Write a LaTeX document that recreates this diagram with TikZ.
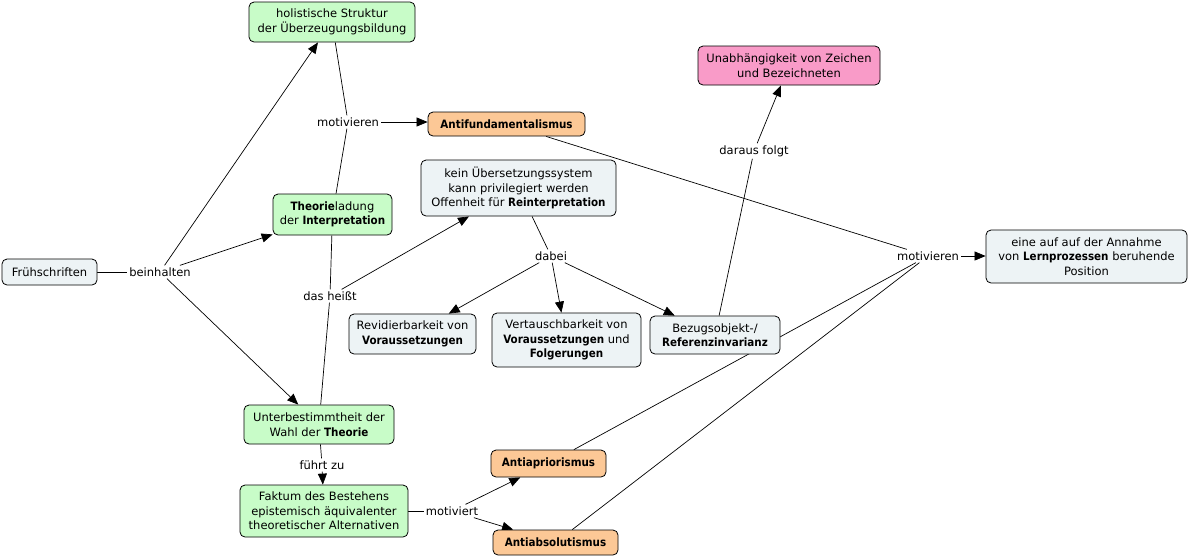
\documentclass[tikz,border=0pt]{standalone}
\usepackage{fontspec}
\setmainfont{DejaVu Sans}[BoldFont={DejaVu Sans Condensed Bold}]
\usetikzlibrary{arrows.meta,backgrounds}
\definecolor{cgreen}{RGB}{200,252,200}
\definecolor{cgray}{RGB}{237,243,245}
\definecolor{corange}{RGB}{252,200,150}
\definecolor{cpink}{RGB}{249,155,200}
\begin{document}
\begin{tikzpicture}[x=1pt,y=-1pt,
  font=\fontsize{11.5}{14.5}\selectfont,
  box/.style={draw=black, rounded corners=5pt, line width=0.8pt, align=center, inner sep=2pt},
  gbox/.style={box, fill=cgreen},
  wbox/.style={box, fill=cgray},
  obox/.style={box, fill=corange},
  pbox/.style={box, fill=cpink},
  lbl/.style={inner sep=2pt},
  conn/.style={draw=black, line width=0.7pt},
  arr/.style={conn, -{Triangle[length=11pt,width=9pt]}}]
\useasboundingbox (0,0) rectangle (1190,558);
% concept nodes
\node[wbox, minimum width=95pt, minimum height=26pt] (fru) at (49.5,272) {Frühschriften};
\node[gbox, minimum width=166pt, minimum height=40pt] (hol) at (332,22) {holistische Struktur\\der Überzeugungsbildung};
\node[obox, minimum width=157pt, minimum height=24pt] (afu) at (506.5,124) {\textbf{Antifundamentalismus}};
\node[gbox, minimum width=119pt, minimum height=41pt] (the) at (332.5,214.5) {\textbf{Theorie}ladung\\der \textbf{Interpretation}};
\node[wbox, minimum width=195pt, minimum height=56pt] (kei) at (518.5,188) {kein Übersetzungssystem\\kann privilegiert werden\\Offenheit für \textbf{Reinterpretation}};
\node[pbox, minimum width=182pt, minimum height=39pt] (una) at (789,65.5) {Unabhängigkeit von Zeichen\\und Bezeichneten};
\node[wbox, minimum width=201pt, minimum height=53pt] (ein) at (1086.5,256.5) {eine auf auf der Annahme\\von \textbf{Lernprozessen} beruhende\\Position};
\node[wbox, minimum width=127pt, minimum height=40pt] (rev) at (412.5,334) {Revidierbarkeit von\\\textbf{Voraussetzungen}};
\node[wbox, minimum width=149pt, minimum height=54pt] (ver) at (566.5,340) {Vertauschbarkeit von\\\textbf{Voraussetzungen} und\\\textbf{Folgerungen}};
\node[wbox, minimum width=130pt, minimum height=38pt] (bez) at (715,335) {Bezugsobjekt-/\\\textbf{Referenzinvarianz}};
\node[gbox, minimum width=150pt, minimum height=39pt] (unt) at (319,424.5) {Unterbestimmtheit der\\Wahl der \textbf{Theorie}};
\node[obox, minimum width=115pt, minimum height=27pt] (apr) at (548.5,463.5) {\textbf{Antiapriorismus}};
\node[gbox, minimum width=168pt, minimum height=52pt] (fak) at (324,511) {Faktum des Bestehens\\epistemisch äquivalenter\\theoretischer Alternativen};
\node[obox, minimum width=125pt, minimum height=25pt] (abs) at (555.5,542.5) {\textbf{Antiabsolutismus}};
% linking phrases
\node[lbl] (lbein) at (160,272) {beinhalten};
\node[lbl] (lmot1) at (348,122) {motivieren};
\node[lbl] (lheisst) at (330,296) {das heißt};
\node[lbl] (ldabei) at (551,256) {dabei};
\node[lbl] (ldaraus) at (754,151) {daraus folgt};
\node[lbl] (lmot2) at (928,256) {motivieren};
\node[lbl] (lfuehrt) at (322,465) {führt zu};
\node[lbl] (lmot3) at (452,511) {motiviert};
% connectors
\begin{scope}[on background layer]
\draw[conn] (fru) -- (lbein);
\draw[arr] (lbein) -- (hol);
\draw[arr] (lbein) -- (the);
\draw[arr] (lbein) -- (unt);
\draw[conn] (hol) -- (lmot1);
\draw[conn] (the) -- (lmot1);
\draw[arr] (lmot1.east) -- (afu.west |- lmot1.east);
\draw[conn] (the) -- (lheisst);
\draw[conn] (unt) -- (lheisst);
\draw[arr] (lheisst) -- (kei);
\draw[conn] (kei) -- (ldabei);
\draw[arr] (ldabei) -- (rev);
\draw[arr] (ldabei) -- (ver);
\draw[arr] (ldabei) -- (bez);
\draw[conn] (bez) -- (ldaraus);
\draw[arr] (ldaraus) -- (una);
\draw[conn] (afu) -- (lmot2);
\draw[conn] (apr) -- (lmot2);
\draw[conn] (abs) -- (lmot2);
\draw[arr] (lmot2.east) -- (ein.west |- lmot2.east);
\draw[conn] (unt) -- (lfuehrt);
\draw[arr] (lfuehrt) -- (fak);
\draw[conn] (fak) -- (lmot3);
\draw[arr] (lmot3) -- (apr);
\draw[arr] (lmot3) -- (abs);
\end{scope}
\end{tikzpicture}
\end{document}
